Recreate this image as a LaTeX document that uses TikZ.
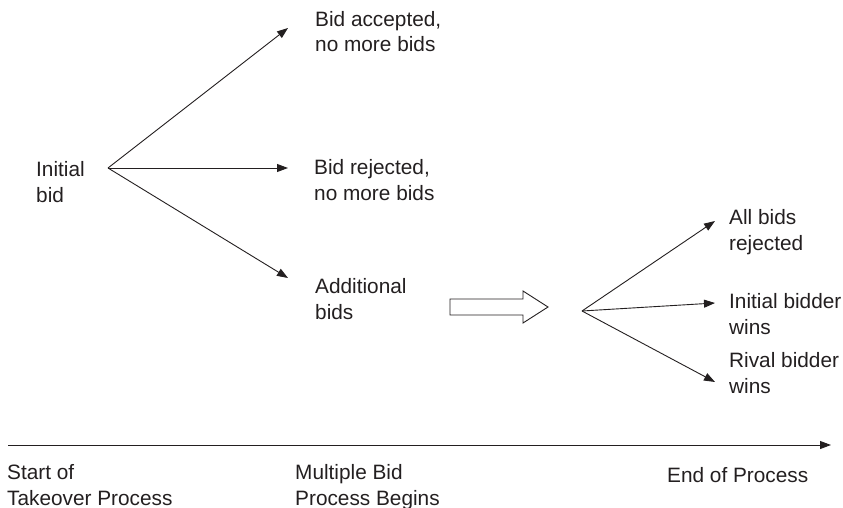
\documentclass[tikz,border=0pt]{standalone}
\usepackage{fontspec}
\setmainfont{Liberation Sans}
\usetikzlibrary{arrows.meta}
\definecolor{ink}{HTML}{231F20}
\tikzset{
  lbl/.style={anchor=base west, inner sep=0pt, align=left, text=ink,
    font=\fontsize{20.8}{25.5}\selectfont},
  arr/.style={draw=ink, line width=0.9pt, -{Triangle[length=11pt,width=8pt]}},
  hollow/.style={draw=ink, line width=0.9pt, fill=white}
}
\begin{document}
\begin{tikzpicture}[x=1pt,y=-1pt]
\useasboundingbox (0,0) rectangle (843,508);
% first fan (anchors at baseline of last line)
\node[lbl] (init) at (36,202) {Initial\\bid};
\coordinate (f1) at (108,168);
\node[lbl] (acc) at (315,52) {Bid accepted,\\no more bids};
\node[lbl] (rej) at (314,200) {Bid rejected,\\no more bids};
\node[lbl] (add) at (315,319) {Additional\\bids};
\coordinate (t1) at (288,28);
\coordinate (t2) at (288,168);
\coordinate (t3) at (288,278);
\draw[arr] (f1) -- (t1);
\draw[arr] (f1) -- (t2);
\draw[arr] (f1) -- (t3);
% hollow arrow
\draw[hollow] (450,299) -- (523,299) -- (523,291) -- (548,307) -- (523,323) -- (523,315) -- (450,315) -- cycle;
% second fan
\coordinate (f2) at (582,311);
\node[lbl] (all) at (729,250) {All bids\\rejected};
\node[lbl] (iw) at (729,334) {Initial bidder\\wins};
\node[lbl] (rw) at (729,393) {Rival bidder\\wins};
\coordinate (u1) at (715,221);
\coordinate (u2) at (715,303);
\coordinate (u3) at (715,382);
\draw[arr] (f2) -- (u1);
\draw[arr] (f2) -- (u2);
\draw[arr] (f2) -- (u3);
% timeline
\coordinate (l0) at (8,445);
\coordinate (l1) at (831,445);
\draw[arr] (l0) -- (l1);
\node[lbl] (start) at (7,505) {Start of\\Takeover Process};
\node[lbl] (mult) at (295,505) {Multiple Bid\\Process Begins};
\node[lbl] (endp) at (667,482) {End of Process};
\end{tikzpicture}
\end{document}
